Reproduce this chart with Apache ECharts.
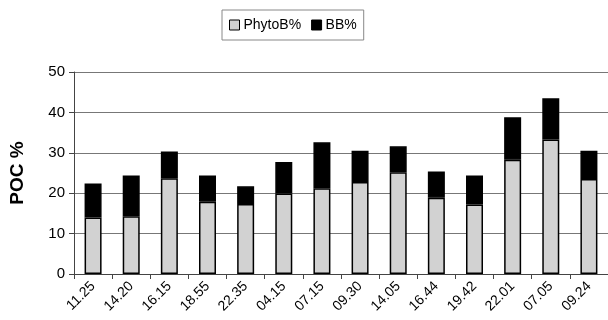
<!DOCTYPE html>
<html>
<head>
<meta charset="utf-8">
<script src="https://cdn.jsdelivr.net/npm/echarts@6/dist/echarts.min.js"></script>
<style>html,body{margin:0;padding:0;background:#fff}#c{width:608px;height:320px}</style>
</head>
<body>
<div id="c"></div>
<script>
var categories = ['11.25','14.20','16.15','18.55','22.35','04.15','07.15','09.30','14.05','16.44','19.42','22.01','07.05','09.24'];
var phytoB = [14.0, 14.3, 23.7, 17.9, 17.3, 19.9, 21.2, 22.8, 25.2, 18.9, 17.2, 28.3, 33.3, 23.5];
var bb = [8.4, 10.1, 6.6, 6.5, 4.4, 7.8, 11.4, 7.7, 6.4, 6.5, 7.2, 10.5, 10.2, 7.0];
var yTicks = [0, 10, 20, 30, 40, 50];

var chart = echarts.init(document.getElementById('c'), null, {renderer: 'canvas'});
var font = 'Liberation Sans, Arial, sans-serif';
chart.setOption({
  animation: false,
  backgroundColor: '#fff',
  textStyle: {fontFamily: font},
  legend: {
    top: 10, left: 222,
    padding: [8, 7, 8, 7],
    borderColor: '#888', borderWidth: 1,
    itemWidth: 10, itemHeight: 10, itemGap: 10,
    textStyle: {fontSize: 14, color: '#000', fontFamily: font, padding: [0, 0, 0, -1]},
    data: [
      {name: 'PhytoB%', icon: 'rect', itemStyle: {color: '#d2d2d2', borderColor: '#000', borderWidth: 1}},
      {name: 'BB%', icon: 'rect', itemStyle: {color: '#000', borderColor: '#000', borderWidth: 1}}
    ]
  },
  grid: {left: 74, right: -5, top: 72, bottom: 46},
  xAxis: {
    type: 'category',
    data: categories,
    axisLine: {lineStyle: {color: '#444', width: 1}},
    axisTick: {show: true, length: 5, lineStyle: {color: '#444'}},
    axisLabel: {rotate: 45, fontSize: 14, color: '#000', margin: 10, fontFamily: font}
  },
  yAxis: {
    type: 'value',
    min: yTicks[0], max: yTicks[yTicks.length - 1], interval: 10,
    name: 'POC %', nameLocation: 'middle', nameGap: 47,
    nameTextStyle: {fontSize: 19, fontWeight: 'bold', color: '#000', fontFamily: font},
    axisLine: {show: true, lineStyle: {color: '#444', width: 1}},
    axisTick: {show: true, length: 5, lineStyle: {color: '#444'}},
    axisLabel: {fontSize: 15, color: '#000', margin: 9, fontFamily: font},
    splitLine: {lineStyle: {color: '#777', width: 1}}
  },
  series: [
    {name: 'PhytoB%', type: 'bar', stack: 'a', data: phytoB, barWidth: 17,
     itemStyle: {color: '#d2d2d2', borderColor: '#000', borderWidth: 1.5}},
    {name: 'BB%', type: 'bar', stack: 'a', data: bb, barWidth: 17,
     itemStyle: {color: '#000', borderColor: '#000', borderWidth: 1.5}}
  ]
});
</script>
</body>
</html>
